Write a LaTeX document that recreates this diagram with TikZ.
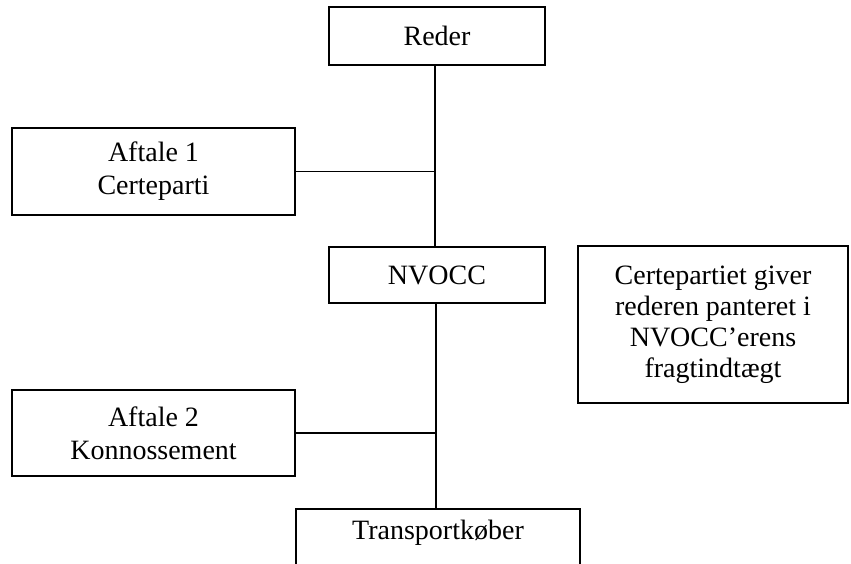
\documentclass[tikz,border=0pt]{standalone}
\usepackage{fontspec}
\setmainfont{Liberation Serif}
\begin{document}
\begin{tikzpicture}[x=1pt,y=-1pt,
  line width=1.3pt,
  boxa/.style={draw,rectangle,inner sep=0pt,align=center,font=\fontsize{28}{33}\selectfont},
  boxb/.style={draw,rectangle,inner sep=0pt,align=center,font=\fontsize{28}{31}\selectfont},
  lbl/.style={inner sep=0pt,font=\fontsize{28}{30}\selectfont}]
\useasboundingbox (0,0) rectangle (851,563);
\clip (0,0) rectangle (851,563);
\node[boxa,minimum width=216pt,minimum height=58pt] (reder) at (437,36) {Reder};
\node[boxa,minimum width=283pt,minimum height=87pt] (aftale1) at (153.5,171.5) {Aftale 1\\Certeparti};
\node[boxa,minimum width=216pt,minimum height=56pt] (nvocc) at (437,275) {NVOCC};
\node[boxb,minimum width=270pt,minimum height=157pt] (note) at (713,324.5) {Certepartiet giver\\rederen panteret i\\NVOCC'erens\\fragtindtægt};
\node[boxa,minimum width=283pt,minimum height=86pt] (aftale2) at (153.5,433) {Aftale 2\\Konnossement};
\node[draw,rectangle,minimum width=284pt,minimum height=92pt,inner sep=0pt] (tk) at (438,555) {};
\node[lbl] (tklabel) at (438,533) {Transportkøber};
\coordinate (top) at (435,65);
\coordinate (mid) at (436,303);
\draw (top) -- (top |- nvocc.north);
\draw (mid) -- (mid |- tk.north);
\draw (aftale1.east) -- (aftale1.east -| top);
\draw (aftale2.east) -- (aftale2.east -| mid);
\end{tikzpicture}
\end{document}
